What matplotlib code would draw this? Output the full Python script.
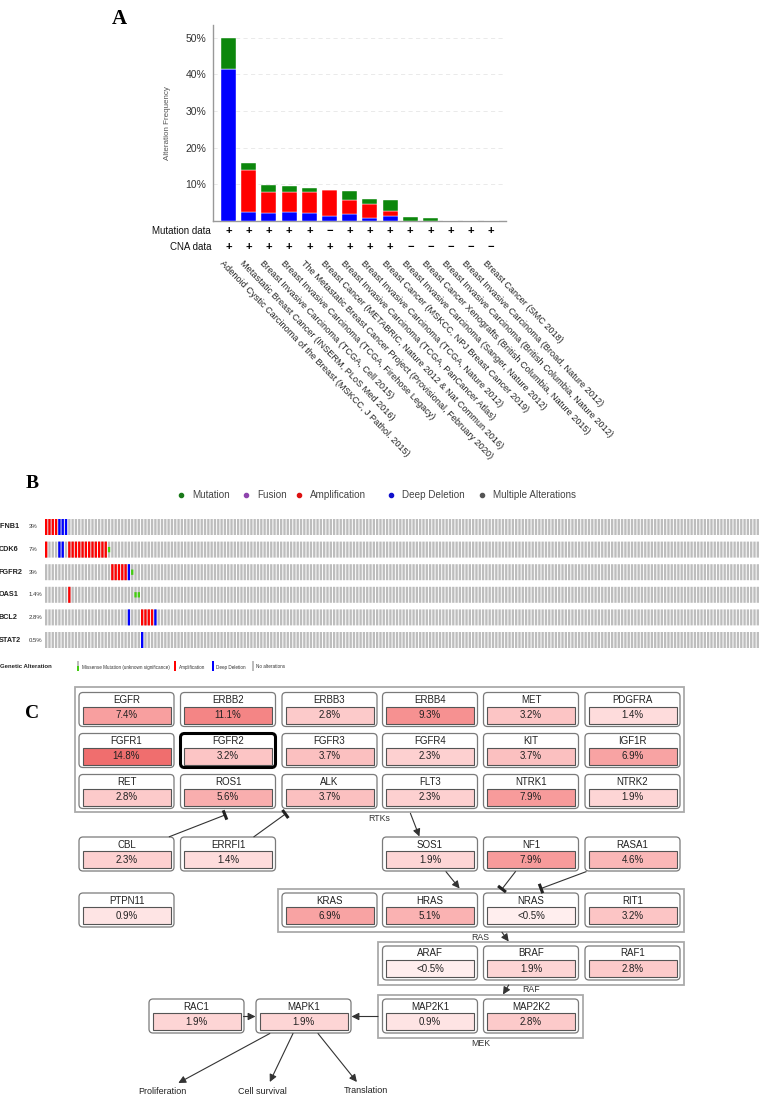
import matplotlib
matplotlib.use('Agg')
import matplotlib.pyplot as plt
from matplotlib.patches import FancyBboxPatch, Rectangle
from matplotlib.transforms import blended_transform_factory
import numpy as np

plt.rcParams['font.family'] = ['Liberation Sans', 'DejaVu Sans']

# ---------------- Panel A data ----------------
studies = [
    "Adenoid Cystic Carcinoma of the Breast (MSKCC, J Pathol. 2015)",
    "Metastatic Breast Cancer (INSERM, PLoS Med 2016)",
    "Breast Invasive Carcinoma (TCGA, Cell 2015)",
    "Breast Invasive Carcinoma (TCGA, Firehose Legacy)",
    "The Metastatic Breast Cancer Project (Provisional, February 2020)",
    "Breast Cancer (METABRIC, Nature 2012 & Nat Commun 2016)",
    "Breast Invasive Carcinoma (TCGA, PanCancer Atlas)",
    "Breast Invasive Carcinoma (TCGA, Nature 2012)",
    "Breast Cancer (MSKCC, NPJ Breast Cancer 2019)",
    "Breast Invasive Carcinoma (Sanger, Nature 2012)",
    "Breast Cancer Xenografts (British Columbia, Nature 2015)",
    "Breast Invasive Carcinoma (British Columbia, Nature 2012)",
    "Breast Invasive Carcinoma (Broad, Nature 2012)",
    "Breast Cancer (SMC 2018)",
]
deep_deletion = [41.5, 2.4, 2.2, 2.3, 2.0, 1.3, 1.8, 0.7, 1.3, 0, 0, 0, 0, 0]
amplification = [0, 11.5, 5.55, 5.45, 5.9, 7.0, 3.8, 3.9, 1.4, 0, 0, 0, 0, 0]
mutation = [8.5, 1.8, 1.9, 1.75, 0.95, 0, 2.4, 1.2, 2.9, 0.9, 0.75, 0, 0, 0]
mutation_data = ['+', '+', '+', '+', '+', '\u2212', '+', '+', '+', '+', '+', '+', '+', '+']
cna_data = ['+', '+', '+', '+', '+', '+', '+', '+', '+', '\u2212', '\u2212', '\u2212', '\u2212', '\u2212']
yticks_a = [10, 20, 30, 40, 50]

# ---------------- Panel B data ----------------
onco_genes = ["IFNB1", "CDK6", "FGFR2", "OAS1", "BCL2", "STAT2"]
onco_pct = ["3%", "7%", "3%", "1.4%", "2.8%", "0.5%"]
n_samples = 216
onco_amp = [[0, 1, 2, 3],
            [0, 7, 8, 9, 10, 11, 12, 13, 14, 15, 16, 17, 18],
            [20, 21, 22, 23, 24],
            [7],
            [29, 30, 31, 32],
            []]
onco_del = [[4, 5, 6], [4, 5], [25], [], [25, 33], [29]]
onco_mut = [[], [19], [26], [27, 28], [], []]

# ---------------- Panel C data ----------------
rtk_genes = ["EGFR", "ERBB2", "ERBB3", "ERBB4", "MET", "PDGFRA",
             "FGFR1", "FGFR2", "FGFR3", "FGFR4", "KIT", "IGF1R",
             "RET", "ROS1", "ALK", "FLT3", "NTRK1", "NTRK2"]
rtk_pct = [7.4, 11.1, 2.8, 9.3, 3.2, 1.4,
           14.8, 3.2, 3.7, 2.3, 3.7, 6.9,
           2.8, 5.6, 3.7, 2.3, 7.9, 1.9]
other_genes = ["CBL", "ERRFI1", "SOS1", "NF1", "RASA1", "PTPN11",
               "KRAS", "HRAS", "NRAS", "RIT1", "ARAF", "BRAF", "RAF1",
               "MAP2K1", "MAP2K2", "RAC1", "MAPK1"]
other_pct = [2.3, 1.4, 1.9, 7.9, 4.6, 0.9,
             6.9, 5.1, 0.4, 3.2, 0.4, 1.9, 2.8,
             0.9, 2.8, 1.9, 1.9]

# ======================================================
W, H = 761, 1103
fig = plt.figure(figsize=(W / 100, H / 100), dpi=100)
cv = fig.add_axes([0, 0, 1, 1])
cv.set_xlim(0, W)
cv.set_ylim(H, 0)
cv.axis('off')

serif = ['Liberation Serif', 'DejaVu Serif']
cv.text(119, 19, "A", ha='center', va='center', fontsize=15, fontweight='bold', family=serif)
cv.text(32, 484, "B", ha='center', va='center', fontsize=14, fontweight='bold', family=serif)
cv.text(32, 713, "C", ha='center', va='center', fontsize=14, fontweight='bold', family=serif)

# ---------------- Panel A ----------------
axA = fig.add_axes([213 / W, 1 - 220.7 / H, 293 / W, 195.7 / H])
x = np.arange(len(studies))
dd = np.array(deep_deletion)
am = np.array(amplification)
mu = np.array(mutation)
bw = 0.74
axA.bar(x, dd, bw, color='#0000ff', edgecolor='white', linewidth=0.3, zorder=3)
axA.bar(x, am, bw, bottom=dd, color='#ff0000', edgecolor='white', linewidth=0.3, zorder=3)
axA.bar(x, mu, bw, bottom=dd + am, color='#0c870c', edgecolor='white', linewidth=0.3, zorder=3)
axA.set_xlim(-0.77, 13.74)
axA.set_ylim(0, 53.5)
axA.set_yticks(yticks_a)
axA.set_yticklabels([f"{v}%" for v in yticks_a], fontsize=7.5, color='#333333')
axA.set_xticks([])
axA.tick_params(axis='y', length=0, pad=5)
for v in yticks_a:
    axA.axhline(v, color='#e6e6e6', lw=0.6, ls=(0, (5, 4)), zorder=1)
for s in ['top', 'right']:
    axA.spines[s].set_visible(False)
for s in ['left', 'bottom']:
    axA.spines[s].set_color('#999999')
    axA.spines[s].set_linewidth(1.0)
axA.set_ylabel("Alteration Frequency", fontsize=5.8, color='#555555', labelpad=10)

tr = blended_transform_factory(axA.transData, cv.transData)
cv.text(211, 231, "Mutation data", ha='right', va='center', fontsize=7, color='#111111')
cv.text(211, 247, "CNA data", ha='right', va='center', fontsize=7, color='#111111')
for i in range(len(studies)):
    cv.text(i, 231, mutation_data[i], transform=tr, ha='center', va='center',
            fontsize=8, fontweight='bold', color='black')
    cv.text(i, 247, cna_data[i], transform=tr, ha='center', va='center',
            fontsize=8, fontweight='bold', color='black')
    cv.text(i - 0.2, 259, studies[i], transform=tr, ha='left', va='top',
            rotation=-46, rotation_mode='anchor', fontsize=6.6, color='#222222')

# ---------------- Panel B ----------------
leg_items = [("Mutation", '#1a7a1a', 181), ("Fusion", '#8e44ad', 246),
             ("Amplification", '#dd1111', 299), ("Deep Deletion", '#1010cc', 391),
             ("Multiple Alterations", '#555555', 482)]
for lab, col, xx in leg_items:
    cv.plot([xx], [494.5], marker='o', ms=3, color=col, mec=col)
    cv.text(xx + 11, 494.5, lab, ha='left', va='center', fontsize=7.1, color='#444444')

row_pitch = 22.6
row_h = 16
top0 = 519
axB = fig.add_axes([45 / W, 1 - (top0 + 5 * row_pitch + row_h) / H,
                    (n_samples * 3.31) / W, (5 * row_pitch + row_h) / H])
axB.set_xlim(0, n_samples)
hfrac = row_h / row_pitch
axB.set_ylim(5 + hfrac, 0)
axB.axis('off')
cols_all = np.arange(n_samples)
bwB = 0.7


def obar(xs, h, bottom, color):
    bars = axB.bar(xs, h, bwB, bottom=bottom, align='edge', color=color, linewidth=0)
    for b in bars:
        b.set_snap(False)


for r in range(len(onco_genes)):
    obar(cols_all, hfrac, r, '#bdbdbd')
    if onco_amp[r]:
        obar(onco_amp[r], hfrac, r, '#ff0000')
    if onco_del[r]:
        obar(onco_del[r], hfrac, r, '#0000ff')
    if onco_mut[r]:
        obar(onco_mut[r], hfrac / 3, r + hfrac / 3, '#44cc11')
    yc = top0 + r * row_pitch + row_h / 2
    cv.text(-1.5, yc, onco_genes[r], ha='left', va='center', fontsize=5.2,
            fontweight='bold', color='#222222',
            family=['Liberation Sans Narrow', 'Liberation Sans', 'DejaVu Sans'])
    cv.text(29, yc, onco_pct[r], ha='left', va='center', fontsize=4.3, color='#333333',
            family=['Liberation Sans Narrow', 'Liberation Sans', 'DejaVu Sans'])

cv.text(0, 667, "Genetic Alteration", ha='left', va='center', fontsize=4.3,
        fontweight='bold', color='#222222')
small = dict(ha='left', va='center', fontsize=3.3, color='#333333')
cv.add_patch(Rectangle((77, 660.5), 2, 10.5, fc='#bdbdbd', ec='none'))
cv.add_patch(Rectangle((77, 665.5), 2, 5.5, fc='#44cc11', ec='none'))
cv.text(82, 667, "Missense Mutation (unknown significance)", **small)
cv.add_patch(Rectangle((173.5, 660.5), 2, 10.5, fc='#ff0000', ec='none'))
cv.text(178.5, 667, "Amplification", **small)
cv.add_patch(Rectangle((211.5, 660.5), 2, 10.5, fc='#0000ff', ec='none'))
cv.text(216.5, 667, "Deep Deletion", **small)
cv.add_patch(Rectangle((251.5, 660.5), 2, 10.5, fc='#bdbdbd', ec='none'))
cv.text(256, 667, "No alterations", **small)

# ---------------- Panel C ----------------
def shade(p):
    g = 255 - 28.8 * p ** 0.6
    r = 255 - 1.0 * p
    return (max(r, 0) / 255, max(g, 0) / 255, max(g, 0) / 255)


def pct_label(p):
    return "<0.5%" if p < 0.5 else f"{p}%"


BW, BH = 95, 34


def node(x0, y0, name, p, bold=False):
    cv.add_patch(FancyBboxPatch((x0, y0), BW, BH, boxstyle='round,pad=0,rounding_size=4',
                                fc='white', ec='black' if bold else '#7a7a7a',
                                lw=2.2 if bold else 0.9, zorder=3))
    cv.text(x0 + BW / 2, y0 + 7.5, name, ha='center', va='center', fontsize=7,
            color='#222222', zorder=5)
    cv.add_patch(Rectangle((x0 + 3.5, y0 + 14), BW - 7, 17, fc=shade(p), ec='#555555',
                           lw=0.8, zorder=4))
    cv.text(x0 + BW / 2, y0 + 22.7, pct_label(p), ha='center', va='center', fontsize=7,
            color='#222222', zorder=5)


def group(x0, y0, x1, y1):
    cv.add_patch(Rectangle((x0, y0), x1 - x0, y1 - y0, fc='none', ec='#aaaaaa', lw=1.3, zorder=2))


gx = [79, 180.5, 282, 382.5, 483.5, 585]
group(75, 687, 684, 812)
group(278, 889, 684, 932)
group(378, 942, 684, 984.5)
group(378, 995, 583, 1037.5)

rtk_rows = [692.5, 733.5, 774.5]
for i, (g, p) in enumerate(zip(rtk_genes, rtk_pct)):
    node(gx[i % 6], rtk_rows[i // 6], g, p, bold=(g == "FGFR2"))

layout = {
    "CBL": (gx[0], 837), "ERRFI1": (gx[1], 837), "SOS1": (gx[3], 837),
    "NF1": (gx[4], 837), "RASA1": (gx[5], 837), "PTPN11": (gx[0], 893),
    "KRAS": (gx[2], 893), "HRAS": (gx[3], 893), "NRAS": (gx[4], 893), "RIT1": (gx[5], 893),
    "ARAF": (gx[3], 946), "BRAF": (gx[4], 946), "RAF1": (gx[5], 946),
    "MAP2K1": (gx[3], 999), "MAP2K2": (gx[4], 999),
    "RAC1": (149, 999), "MAPK1": (256, 999),
}
for g, p in zip(other_genes, other_pct):
    node(*layout[g], g, p)

glab = dict(ha='center', va='center', fontsize=6.3, color='#333333')
cv.text(379, 818.5, "RTKs", **glab)
cv.text(480.5, 937.5, "RAS", **glab)
cv.text(531, 989.5, "RAF", **glab)
cv.text(480.5, 1043, "MEK", **glab)


def arrow(x0, y0, x1, y1):
    cv.annotate('', xy=(x1, y1), xytext=(x0, y0),
                arrowprops=dict(arrowstyle='-|>', color='#333333', lw=0.8,
                                mutation_scale=11, shrinkA=0, shrinkB=0), zorder=6)


def inhibit(x0, y0, x1, y1):
    cv.plot([x0, x1], [y0, y1], color='#333333', lw=0.8, zorder=6)
    d = np.array([x1 - x0, y1 - y0], dtype=float)
    d /= np.hypot(*d)
    n = np.array([-d[1], d[0]]) * 5
    cv.plot([x1 - n[0], x1 + n[0]], [y1 - n[1], y1 + n[1]], color='#222222', lw=2.2,
            solid_capstyle='butt', zorder=6)


inhibit(169.4, 836.7, 225, 815)
inhibit(254, 836.7, 285.4, 814)
arrow(410.4, 813.3, 419.4, 836.5)
arrow(446, 871.7, 459.6, 888.5)
inhibit(515.4, 871.7, 502, 889)
inhibit(586, 871.7, 541, 888.5)
arrow(502, 932.3, 508.7, 941.5)
arrow(508.7, 985, 503, 994.5)
arrow(378, 1016.5, 351.5, 1016.5)
arrow(243.5, 1016.5, 255.5, 1016.5)
arrow(269.8, 1033.5, 178.3, 1083)
arrow(293, 1033.5, 269.8, 1082)
arrow(318, 1033.5, 356.9, 1082)

endlab = dict(ha='center', va='center', fontsize=6.5, color='#222222')
cv.text(162, 1091, "Proliferation", **endlab)
cv.text(262, 1091, "Cell survival", **endlab)
cv.text(366, 1090.5, "Translation", **endlab)

fig.savefig("out.png", dpi=100)
